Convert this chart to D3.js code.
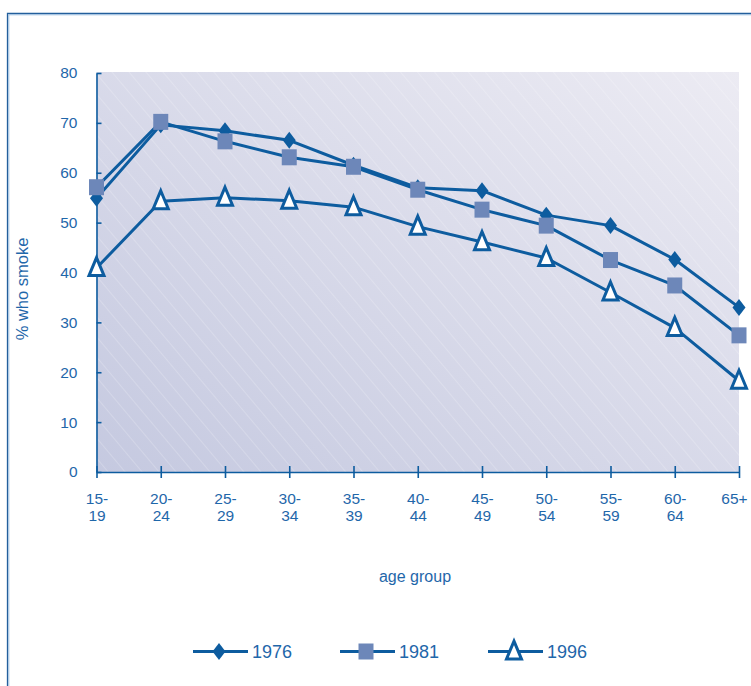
<!DOCTYPE html>
<html>
<head>
<meta charset="utf-8">
<script src="https://cdn.jsdelivr.net/npm/d3@7/dist/d3.min.js"></script>
<style>
  html, body { margin: 0; padding: 0; background: #ffffff; }
  svg { display: block; font-family: "Liberation Sans", Arial, sans-serif; }
</style>
</head>
<body>
<svg id="chart" width="751" height="686"></svg>
<script>
// Smoking prevalence by age group for three survey years
const ageGroups = ["15-19", "20-24", "25-29", "30-34", "35-39", "40-44", "45-49", "50-54", "55-59", "60-64", "65+"];
const smoke1976 = [54.9, 69.6, 68.4, 66.5, 61.5, 57.0, 56.4, 51.5, 49.4, 42.6, 33.0];
const smoke1981 = [57.1, 70.2, 66.3, 63.1, 61.2, 56.6, 52.6, 49.4, 42.5, 37.4, 27.4];
const smoke1996 = [40.9, 54.3, 55.0, 54.4, 53.1, 49.2, 46.1, 42.9, 36.0, 28.9, 18.3];
const yTicks = [0, 10, 20, 30, 40, 50, 60, 70, 80];
const seriesNames = ["1976", "1981", "1996"];

const ink = "#0d5c9f";
const textColor = "#1f67aa";
const squareFill = "#6d87b9";

const svg = d3.select("#chart");
const defs = svg.append("defs");

// soft diagonal gradient behind the plot
const grad = defs.append("linearGradient")
  .attr("id", "plotBg").attr("x1", "0").attr("y1", "1").attr("x2", "1").attr("y2", "0");
grad.append("stop").attr("offset", "0").attr("stop-color", "#c5c9e0");
grad.append("stop").attr("offset", "1").attr("stop-color", "#ecebf3");

// faint white hatching
const hatch = defs.append("pattern")
  .attr("id", "hatch").attr("patternUnits", "userSpaceOnUse")
  .attr("width", 13).attr("height", 13)
  .attr("patternTransform", "rotate(-40)");
hatch.append("line")
  .attr("x1", 0).attr("y1", 0).attr("x2", 0).attr("y2", 13)
  .attr("stroke", "#ffffff").attr("stroke-opacity", 0.5).attr("stroke-width", 0.8);

// outer frame
svg.append("path").attr("d", "M7.5,700 V13.5 H760")
  .attr("fill", "none").attr("stroke", "#235f9c").attr("stroke-width", 1.3);
svg.append("path").attr("d", "M8.8,700 V14.8 H760")
  .attr("fill", "none").attr("stroke", "#9dbfe0").attr("stroke-width", 1);

const x = d3.scalePoint().domain(ageGroups).range([96.5, 739]);
const y = d3.scaleLinear().domain([0, 80]).range([472, 73]);

// plot background
const px0 = x.range()[0], px1 = x.range()[1];
svg.append("rect").attr("x", px0).attr("y", y(80) - 1)
  .attr("width", px1 - px0).attr("height", y(0) - y(80) + 1)
  .attr("fill", "url(#plotBg)");
svg.append("rect").attr("x", px0).attr("y", y(80) - 1)
  .attr("width", px1 - px0).attr("height", y(0) - y(80) + 1)
  .attr("fill", "url(#hatch)");

// y axis
const yAxis = svg.append("g").attr("transform", `translate(${px0},0)`)
  .call(d3.axisLeft(y).tickValues(yTicks).tickSize(5).tickPadding(14).tickSizeOuter(0));
yAxis.selectAll(".tick line").attr("x2", 5);
// x axis
const xAxis = svg.append("g").attr("transform", `translate(0,${y(0)})`)
  .call(d3.axisBottom(x).tickSize(6).tickSizeOuter(0).tickFormat(""));
xAxis.selectAll(".tick line").attr("y1", -6);

[yAxis, xAxis].forEach(g => {
  g.select(".domain").attr("stroke", ink).attr("stroke-width", 1.6);
  g.selectAll(".tick line").attr("stroke", ink).attr("stroke-width", 1.6);
});
yAxis.selectAll(".tick text").attr("fill", textColor).attr("font-size", 15.5)
  .attr("font-family", "Liberation Sans, Arial, sans-serif");

// two-line age labels; the last one is nudged in so it stays inside the page
xAxis.selectAll(".tick").each(function (d) {
  const open = d.endsWith("+");
  const parts = open ? [d] : [d.split("-")[0] + "-", d.split("-")[1]];
  const t = d3.select(this).append("text")
    .attr("fill", textColor).attr("font-size", 15.5).attr("text-anchor", "middle")
    .attr("font-family", "Liberation Sans, Arial, sans-serif");
  parts.forEach((p, i) => t.append("tspan").attr("x", open ? -5 : 0).attr("y", 32 + i * 17).text(p));
});

// axis titles
svg.append("text").attr("x", 415).attr("y", 582).attr("text-anchor", "middle")
  .attr("fill", textColor).attr("font-size", 16).text("age group");
svg.append("text").attr("transform", "translate(28,289) rotate(-90)")
  .attr("text-anchor", "middle").attr("fill", textColor).attr("font-size", 16.5)
  .text("% who smoke");

// series lines
const line = d3.line().x((d, i) => x(ageGroups[i])).y(d => y(d));
[smoke1976, smoke1981, smoke1996].forEach(s => {
  svg.append("path").datum(s).attr("d", line)
    .attr("fill", "none").attr("stroke", ink).attr("stroke-width", 3)
    .attr("stroke-linejoin", "round");
});

// marker shapes
const diamond = (w, h) => `M0,${-h / 2}L${w / 2},0L0,${h / 2}L${-w / 2},0Z`;
const triangle = (w, h) => `M0,${-h * 0.58}L${w / 2},${h * 0.42}L${-w / 2},${h * 0.42}Z`;

function drawDiamond(g, cx, cy) {
  g.append("path").attr("d", diamond(13, 17)).attr("transform", `translate(${cx},${cy})`)
    .attr("fill", ink);
}
function drawSquare(g, cx, cy) {
  g.append("rect").attr("x", cx - 7.5).attr("y", cy - 8).attr("width", 15).attr("height", 16)
    .attr("fill", squareFill);
}
function drawTriangle(g, cx, cy) {
  g.append("path").attr("d", triangle(15, 18)).attr("transform", `translate(${cx},${cy})`)
    .attr("fill", "#ffffff").attr("stroke", ink).attr("stroke-width", 3)
    .attr("stroke-linejoin", "miter");
}

const marks = svg.append("g");
smoke1976.forEach((v, i) => drawDiamond(marks, x(ageGroups[i]), y(v)));
smoke1981.forEach((v, i) => drawSquare(marks, x(ageGroups[i]), y(v)));
smoke1996.forEach((v, i) => drawTriangle(marks, x(ageGroups[i]), y(v)));

// legend
const legendX = [193, 340, 488];
const drawers = [drawDiamond, drawSquare, drawTriangle];
const legend = svg.append("g");
seriesNames.forEach((name, i) => {
  const lx = legendX[i], ly = 651.5;
  legend.append("line").attr("x1", lx).attr("x2", lx + 55).attr("y1", ly).attr("y2", ly)
    .attr("stroke", ink).attr("stroke-width", 3);
  drawers[i](legend, lx + 26, ly);
  legend.append("text").attr("x", lx + 59).attr("y", ly + 6.5)
    .attr("fill", textColor).attr("font-size", 18).text(name);
});
</script>
</body>
</html>
